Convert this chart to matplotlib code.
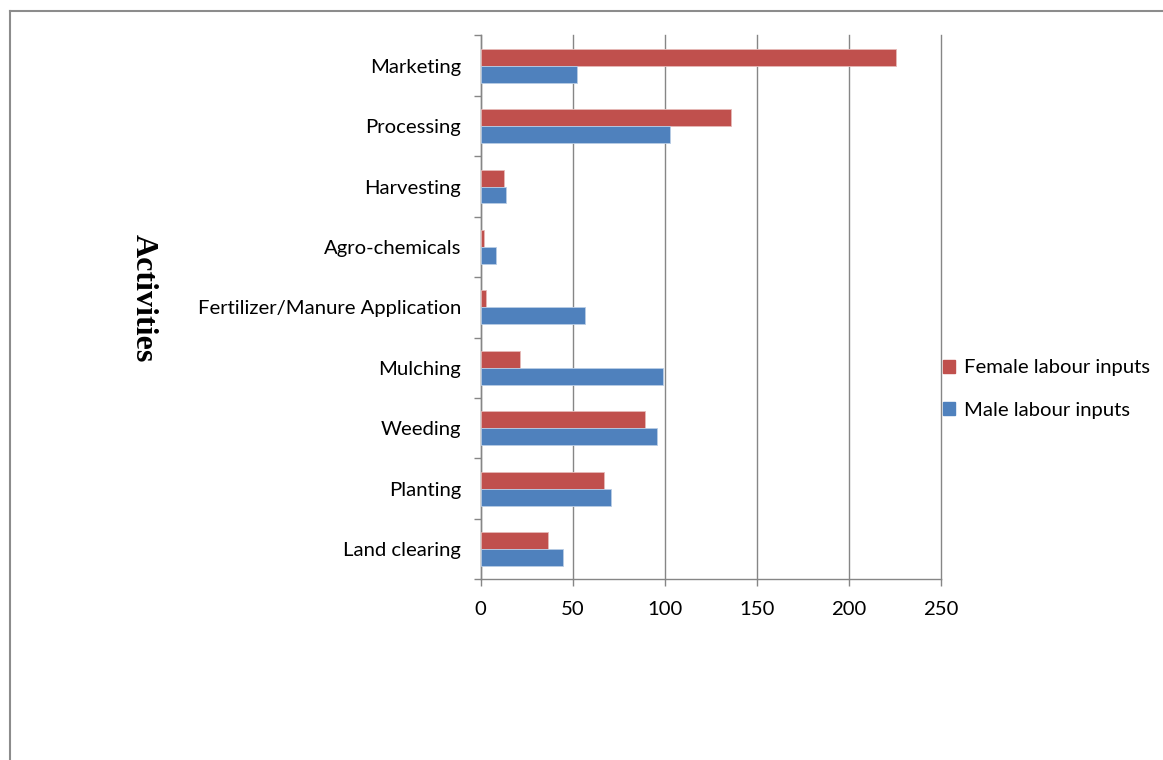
import matplotlib.pyplot as plt
import numpy as np
from matplotlib.lines import Line2D
from matplotlib.patches import Patch

activities = ['Land clearing', 'Planting', 'Weeding', 'Mulching',
              'Fertilizer/Manure Application', 'Agro-chemicals',
              'Harvesting', 'Processing', 'Marketing']
female_inputs = [36.7, 66.9, 89.2, 21.6, 2.9, 1.6, 12.5, 136.1, 225.9]
male_inputs = [44.7, 70.9, 96.1, 99.0, 56.7, 8.5, 13.6, 102.8, 52.5]
x_ticks = [0, 50, 100, 150, 200, 250]

red = '#C0504D'
blue = '#4F81BD'
grey = '#868686'
font = 'Lato'
fsize = 14.6

fig = plt.figure(figsize=(11.63, 7.6), dpi=100)
ax = fig.add_axes([0.4133, 0.2378, 0.3954, 0.7155])

y = np.arange(len(activities))
h = 0.28
ax.barh(y + h / 2, female_inputs, height=h, color=red,
        edgecolor='#E6B9B8', linewidth=0.6, label='Female labour inputs', zorder=3)
ax.barh(y - h / 2, male_inputs, height=h, color=blue,
        edgecolor='#B9CDE5', linewidth=0.6, label='Male labour inputs', zorder=3)

ax.set_xlim(0, 250)
ax.set_ylim(-0.5, len(activities) - 0.5)
ax.set_xticks(x_ticks)
ax.set_xticklabels([str(t) for t in x_ticks], fontsize=fsize, family=font)
ax.xaxis.grid(True, color=grey, linewidth=1.0, zorder=0)
for gl in ax.get_xgridlines():
    gl.set_clip_on(False)

# category labels sit between the boundary ticks
ax.set_yticks(y)
ax.set_yticklabels(activities, fontsize=fsize, family=font)
ax.set_yticks(np.arange(len(activities) + 1) - 0.5, minor=True)
ax.tick_params(axis='y', which='major', length=0, pad=14)
ax.tick_params(axis='y', which='minor', length=5, color=grey, width=1.0)
ax.tick_params(axis='x', length=5, color=grey, width=1.0, pad=11)

for s in ['top', 'right']:
    ax.spines[s].set_visible(False)
for s in ['left', 'bottom']:
    ax.spines[s].set_color(grey)
    ax.spines[s].set_linewidth(1.0)

fig.text(0.123, 0.607, 'Activities', rotation=270, ha='center', va='center',
         fontsize=23, fontweight='bold', family='Liberation Serif')

handles = [Patch(color=red, label='Female labour inputs'),
           Patch(color=blue, label='Male labour inputs')]
fig.legend(handles=handles, loc='center left', bbox_to_anchor=(0.795, 0.488),
           frameon=False, prop={'family': font, 'size': fsize},
           handlelength=0.6, handleheight=0.6, handletextpad=0.45,
           labelspacing=1.25)

# outer chart border (top and left edges)
fig.add_artist(Line2D([10 / 1163, 1.0], [1 - 11 / 760, 1 - 11 / 760],
                      transform=fig.transFigure, color='#8C8C8C', linewidth=1.5))
fig.add_artist(Line2D([10 / 1163, 10 / 1163], [0, 1 - 11 / 760],
                      transform=fig.transFigure, color='#8C8C8C', linewidth=1.5))

fig.savefig('out.png', dpi=100)
